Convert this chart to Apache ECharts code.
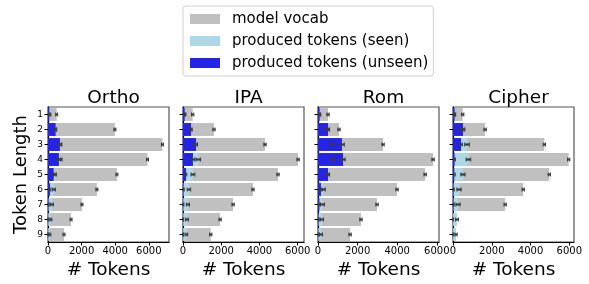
<!DOCTYPE html>
<html>
<head>
<meta charset="utf-8">
<script src="https://cdn.jsdelivr.net/npm/echarts@6/dist/echarts.min.js"></script>
<style>
  html, body { margin: 0; padding: 0; background: #fff; }
  #chart { width: 589px; height: 284px; }
</style>
</head>
<body>
<div id="chart"></div>
<script>
// token lengths on the y axis, one panel per script
const lengths = ['1', '2', '3', '4', '5', '6', '7', '8', '9'];
const schemes = ['Ortho', 'IPA', 'Rom', 'Cipher'];
const axisMax = [7200, 6330, 6110, 6240];

// model vocab counts per token length
const vocab = [
    [515, 3980, 6810, 5920, 4100, 2910, 2020, 1370, 950],
    [506, 1620, 4290, 6020, 4970, 3660, 2620, 1940, 1450],
    [505, 1060, 3285, 5810, 5410, 3990, 2980, 2170, 1620],
    [500, 1655, 4710, 5965, 4965, 3620, 2690, 0, 0]
];
// produced tokens seen in training
const seen = [
    [110, 430, 700, 720, 410, 350, 240, 170, 110],
    [100, 400, 650, 800, 520, 310, 260, 210, 175],
    [90, 440, 710, 760, 470, 260, 220, 200, 150],
    [90, 450, 725, 795, 515, 310, 260, 205, 155]
];
// produced tokens never seen
const unseen = [
    [80, 455, 710, 650, 340, 120, 40, 20, 15],
    [90, 420, 680, 520, 160, 35, 20, 15, 10],
    [85, 505, 1210, 1265, 505, 150, 70, 35, 20],
    [85, 515, 415, 85, 70, 35, 35, 5, 5]
];
// error bar half widths
const vocabErr = [
    [60, 60, 60, 60, 60, 60, 60, 60, 60],
    [60, 60, 60, 60, 60, 60, 60, 60, 60],
    [60, 60, 60, 60, 60, 60, 60, 60, 60],
    [60, 60, 60, 60, 60, 60, 60, 0, 0]
];
const seenErr = [
    [60, 80, 120, 120, 90, 90, 80, 60, 60],
    [50, 60, 110, 120, 100, 90, 80, 70, 70],
    [50, 120, 120, 110, 100, 110, 110, 80, 80],
    [50, 120, 120, 120, 110, 110, 110, 80, 60]
];
const unseenErr = [
    [40, 60, 100, 110, 70, 50, 40, 30, 30],
    [40, 60, 80, 100, 40, 30, 30, 20, 20],
    [40, 80, 120, 110, 80, 60, 40, 30, 20],
    [40, 100, 70, 40, 40, 30, 30, 10, 10]
];

const gridLeft = [48, 183, 318, 453];
const font = 'DejaVu Sans';

function errSeries(i, vals, errs) {
    return {
        type: 'custom',
        xAxisIndex: i,
        yAxisIndex: i,
        silent: true,
        z: 10,
        data: vals.map((v, k) => [v, k, errs[k]]).filter(d => d[2] > 0 || d[0] > 0),
        renderItem: function (params, api) {
            const v = api.value(0), k = api.value(1), e = api.value(2);
            const a = api.coord([v - e, k]);
            const b = api.coord([v + e, k]);
            const c = '#3c3c3c';
            return {
                type: 'group',
                children: [
                    { type: 'line', shape: { x1: a[0], y1: a[1], x2: b[0], y2: b[1] }, style: { stroke: c, lineWidth: 2.2 } },
                    { type: 'line', shape: { x1: a[0], y1: a[1] - 2, x2: a[0], y2: a[1] + 2 }, style: { stroke: c, lineWidth: 1 } },
                    { type: 'line', shape: { x1: b[0], y1: b[1] - 2, x2: b[0], y2: b[1] + 2 }, style: { stroke: c, lineWidth: 1 } }
                ]
            };
        }
    };
}

const grids = [], xAxes = [], yAxes = [], titles = [], series = [];
schemes.forEach((name, i) => {
    grids.push({
        left: gridLeft[i], top: 107, width: 121, height: 135,
        show: true, borderColor: '#555', borderWidth: 1.2, backgroundColor: 'transparent'
    });
    titles.push({
        text: name,
        left: gridLeft[i] + 60.5, top: 84, textAlign: 'center',
        textStyle: { fontFamily: font, fontSize: 18.5, fontWeight: 'normal', color: '#000' }
    });
    xAxes.push({
        type: 'value', gridIndex: i, min: 0, max: axisMax[i], interval: 2000,
        name: '# Tokens', nameLocation: 'middle', nameGap: 19,
        nameTextStyle: { fontFamily: font, fontSize: 18.5, color: '#000' },
        axisLine: { show: true, lineStyle: { color: '#000', width: 1.2 } },
        axisTick: { show: true, length: 3.5, lineStyle: { color: '#000' } },
        axisLabel: {
            fontFamily: font, fontSize: 10, color: '#000', margin: 4, showMaxLabel: false,
            formatter: v => String(v)
        },
        splitLine: { show: false }
    });
    yAxes.push({
        type: 'category', gridIndex: i, data: lengths, inverse: true,
        name: i === 0 ? 'Token Length' : '', nameLocation: 'middle', nameGap: 18,
        nameTextStyle: { fontFamily: font, fontSize: 18, color: '#000' },
        axisLine: { show: true, lineStyle: { color: '#000', width: 1.2 } },
        axisTick: { show: true, alignWithLabel: true, length: 3.5, lineStyle: { color: '#000' } },
        axisLabel: { show: i === 0, fontFamily: font, fontSize: 9, color: '#000', margin: 5 },
        splitLine: { show: false }
    });
    const bar = (label, data, color) => ({
        name: label, type: 'bar', xAxisIndex: i, yAxisIndex: i,
        data: data, barWidth: '86%', barGap: '-100%',
        itemStyle: { color: color }, silent: true
    });
    series.push(bar('model vocab', vocab[i], '#c0c0c0'));
    series.push(bar('produced tokens (seen)', seen[i], '#add8e6'));
    series.push(bar('produced tokens (unseen)', unseen[i], '#2424e6'));
    series.push(errSeries(i, vocab[i], vocabErr[i]));
    series.push(errSeries(i, seen[i], seenErr[i]));
    series.push(errSeries(i, unseen[i], unseenErr[i]));
});

const chart = echarts.init(document.getElementById('chart'), null, { renderer: 'canvas' });
chart.setOption({
    animation: false,
    backgroundColor: '#fff',
    title: titles,
    legend: {
        data: ['model vocab', 'produced tokens (seen)', 'produced tokens (unseen)'],
        orient: 'vertical', left: 183, top: 6,
        icon: 'rect', itemWidth: 30, itemHeight: 10, itemGap: 6,
        padding: [5, 5, 5, 7],
        borderColor: '#d0d0d0', borderWidth: 1, borderRadius: 3,
        textStyle: { fontFamily: font, fontSize: 15, color: '#000', lineHeight: 16, padding: [0, 0, 0, 7] },
        selectedMode: false
    },
    grid: grids,
    xAxis: xAxes,
    yAxis: yAxes,
    series: series
});
</script>
</body>
</html>
